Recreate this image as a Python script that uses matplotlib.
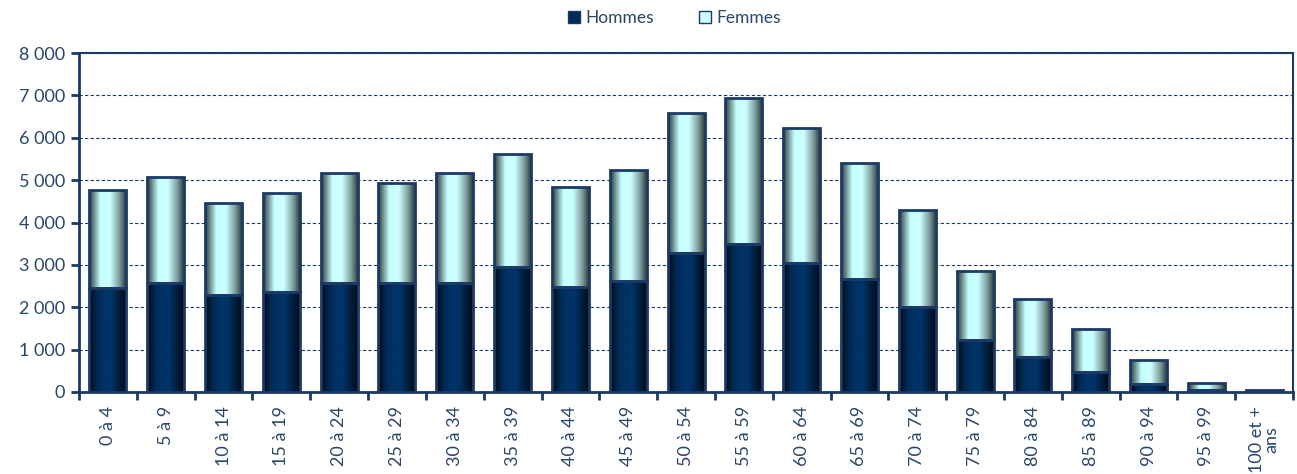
import numpy as np
import matplotlib
matplotlib.use("Agg")
import matplotlib.pyplot as plt
from matplotlib.colors import LinearSegmentedColormap
from matplotlib.patches import Patch
from matplotlib.ticker import FuncFormatter, MultipleLocator

# Age groups and population counts
categories = ["0 à 4", "5 à 9", "10 à 14", "15 à 19", "20 à 24", "25 à 29",
              "30 à 34", "35 à 39", "40 à 44", "45 à 49", "50 à 54", "55 à 59",
              "60 à 64", "65 à 69", "70 à 74", "75 à 79", "80 à 84", "85 à 89",
              "90 à 94", "95 à 99", "100 et +\nans"]
hommes = [2460, 2565, 2290, 2352, 2580, 2580, 2580, 2945, 2485, 2627,
          3273, 3485, 3037, 2670, 2014, 1227, 818, 480, 200, 50, 10]
totals = [4770, 5080, 4453, 4689, 5165, 4925, 5165, 5617, 4832, 5235,
          6592, 6930, 6222, 5410, 4295, 2866, 2205, 1479, 755, 220, 40]
femmes = [t - h for t, h in zip(totals, hommes)]

text_col = "#2a4668"
edge_col = "#1b3a66"
plt.rcParams['font.family'] = ['Lato', 'DejaVu Sans']

# horizontal gradients imitating the shaded bars
cmap_h = LinearSegmentedColormap.from_list(
    "h", [(0, "#000812"), (0.22, "#002a55"), (0.4, "#003366"), (0.6, "#003366"), (1, "#000812")])
cmap_f = LinearSegmentedColormap.from_list(
    "f", [(0, "#2a3535"), (0.3, "#c6ffff"), (0.55, "#ccffff"), (0.8, "#7d9c9c"), (1, "#222c2c")])
grad = np.linspace(0, 1, 256).reshape(1, -1)

fig = plt.figure(figsize=(12.97, 4.74), dpi=100)
ax = fig.add_axes([0.0609, 0.173, 0.9361, 0.715])

x = np.arange(len(categories))
w = 0.64
bars_h = ax.bar(x, hommes, w, color="none", edgecolor=edge_col, linewidth=2, zorder=4)
bars_f = ax.bar(x, femmes, w, bottom=hommes, color="none", edgecolor=edge_col, linewidth=2, zorder=4)

for bars, cm in ((bars_h, cmap_h), (bars_f, cmap_f)):
    for b in bars:
        bx, by = b.get_x(), b.get_y()
        bw, bh = b.get_width(), b.get_height()
        if bh <= 0:
            continue
        im = ax.imshow(grad, cmap=cm, aspect="auto", extent=(bx, bx + bw, by, by + bh),
                       interpolation="bilinear", zorder=3)
        im.set_clip_path(b)

ax.set_xlim(-0.5, len(categories) - 0.5)
ax.set_ylim(0, 8000)

ax.yaxis.set_major_locator(MultipleLocator(1000))
ax.yaxis.set_major_formatter(FuncFormatter(lambda v, p: f"{int(v):,}".replace(",", " ")))
ax.grid(axis="y", color=edge_col, linestyle=(0, (3, 2)), linewidth=0.8, zorder=1)

ax.set_xticks(x)
ax.set_xticklabels(categories, rotation=90, va="top", ha="center", linespacing=0.85)
ax.set_xticks(np.arange(-0.5, len(categories)), minor=True)
ax.tick_params(axis="x", which="major", length=0, pad=10, labelsize=13, labelcolor=text_col)
ax.tick_params(axis="x", which="minor", length=6, width=2, color=edge_col, direction="out")
ax.tick_params(axis="y", length=6, width=2, color=edge_col, labelsize=13, labelcolor=text_col, pad=4)

for s in ax.spines.values():
    s.set_color(edge_col)
    s.set_linewidth(1.5)
ax.spines["left"].set_linewidth(2)
ax.spines["bottom"].set_linewidth(2)

handles = [Patch(facecolor="#002a55", edgecolor=edge_col, label="Hommes"),
           Patch(facecolor="#ccffff", edgecolor=edge_col, label="Femmes")]
fig.legend(handles=handles, loc="upper center", bbox_to_anchor=(0.52, 1.012), ncol=2,
           frameon=False, fontsize=12.5, labelcolor=text_col, handlelength=0.7,
           handleheight=0.7, columnspacing=2.6, handletextpad=0.3)

fig.savefig("out.png", dpi=100)
